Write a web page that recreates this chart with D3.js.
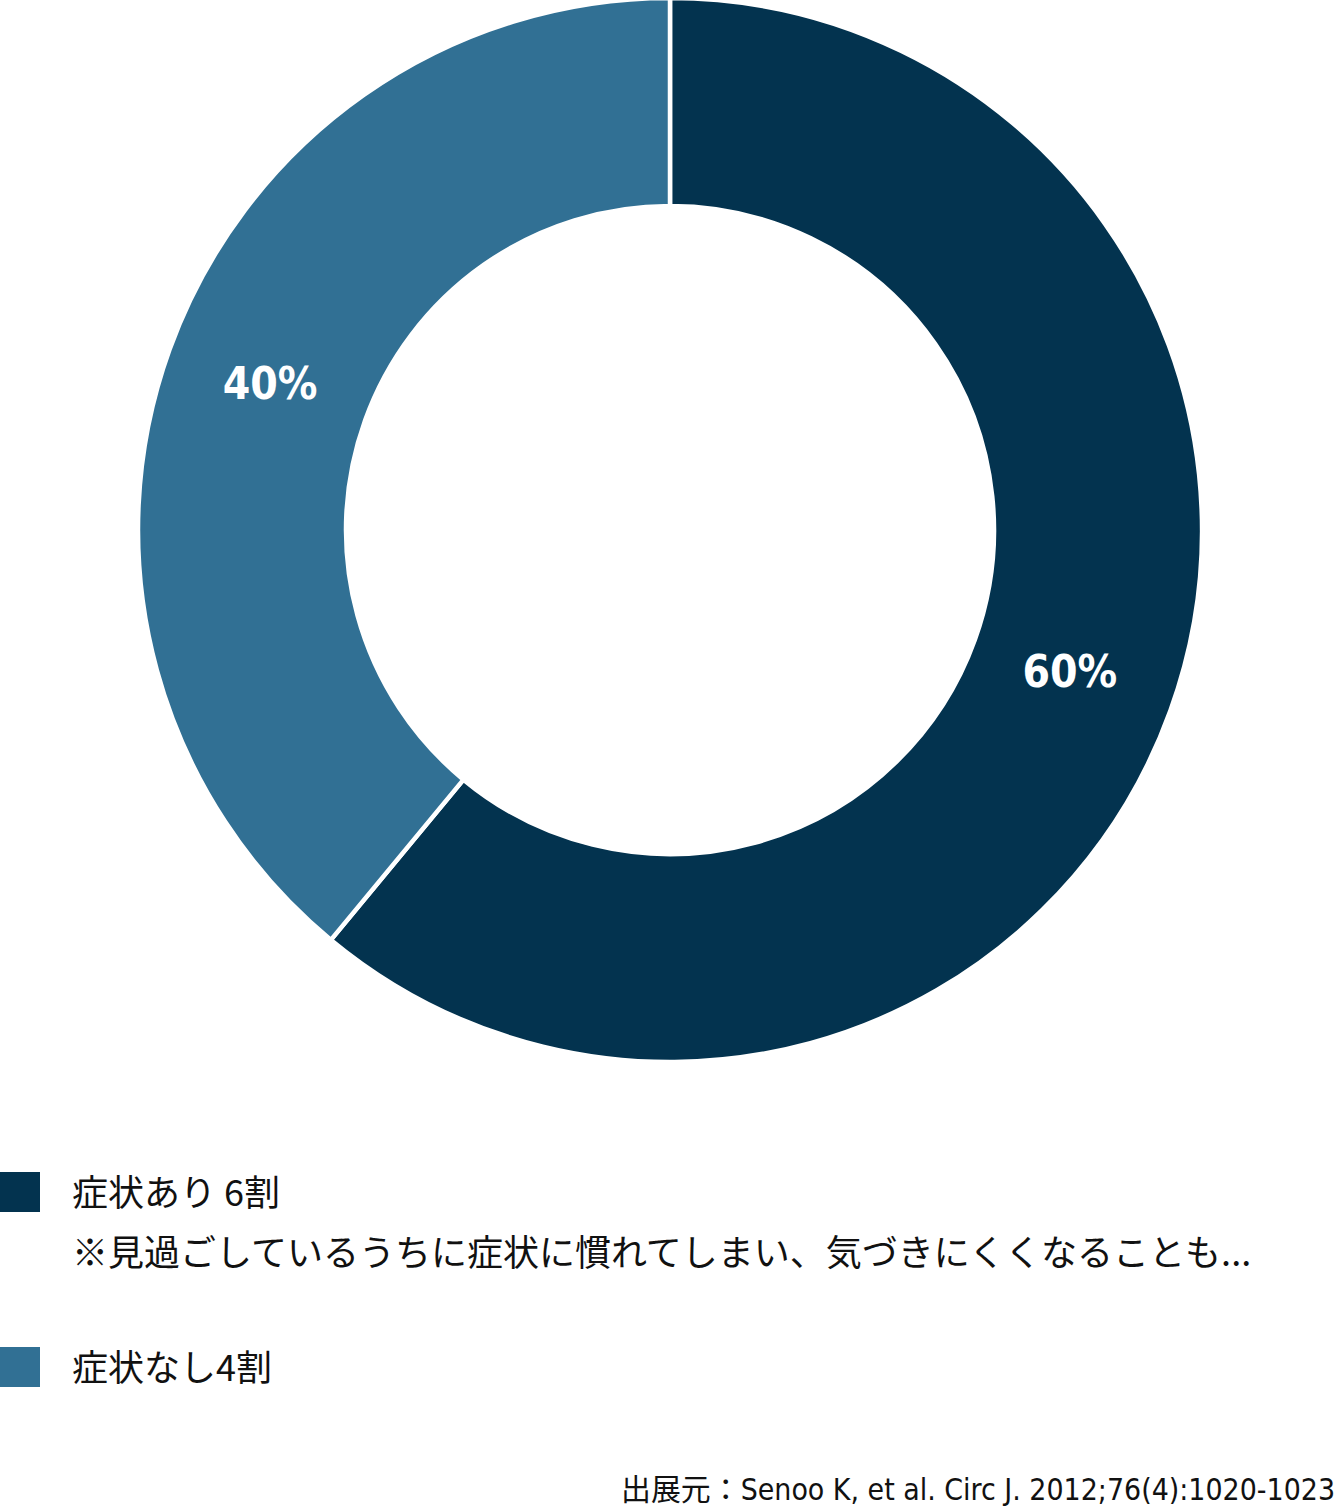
<!DOCTYPE html>
<html>
<head>
<meta charset="utf-8">
<script src="https://cdn.jsdelivr.net/npm/d3@7"></script>
<style>
  body { margin: 0; background: #fff; }
  svg { display: block; }
</style>
</head>
<body>
<div class="container"></div>
<script>
// Data
const categories = ["症状あり", "症状なし"]
const shares = [61, 39]               // slice sizes as drawn
const pctLabels = ["60%", "40%"]
const legendLines = [
    ["症状あり 6割", "※見過ごしているうちに症状に慣れてしまい、気づきにくくなることも..."],
    ["症状なし4割"]
]
const colors = ["#03334f", "#317094"]
const sourceText = "出展元：Senoo K, et al. Circ J. 2012;76(4):1020-1023"

// SVG
let width = 1340
let height = 1512
let cx = 670, cy = 530

const svg = d3.select(".container")
    .append("svg")
    .attr("width", width)
    .attr("height", height)

const color = d3.scaleOrdinal()
    .domain(categories)
    .range(colors)

const pie = d3.pie()
    .sort(null)
    .value(d => d.value)

const arc = d3.arc()
    .innerRadius(324)
    .outerRadius(532)

const labelArc = d3.arc()
    .innerRadius(425)
    .outerRadius(425)

const data = categories.map((c, i) => ({name: c, value: shares[i], label: pctLabels[i]}))
const arcs = pie(data)

const g = svg.append("g")
    .attr("transform", `translate(${cx}, ${cy})`)

// Slices
g.selectAll(".slice")
    .data(arcs)
    .enter()
    .append("path")
    .attr("class", "slice")
    .attr("d", arc)
    .attr("fill", d => color(d.data.name))
    .attr("stroke", "white")
    .attr("stroke-width", 4.5)

// Percent labels
g.selectAll(".pct")
    .data(arcs)
    .enter()
    .append("text")
    .attr("class", "pct")
    .text(d => d.data.label)
    .attr("transform", d => `translate(${labelArc.centroid(d)})`)
    .attr("text-anchor", "middle")
    .attr("dy", "0.3em")
    .attr("font-family", "'DejaVu Sans Condensed', 'DejaVu Sans', sans-serif")
    .attr("font-stretch", "condensed")
    .attr("font-weight", "bold")
    .attr("font-size", 44)
    .attr("fill", "white")

// Legend
const legendY = [1172, 1347]
const legend = svg.selectAll(".legend")
    .data(data)
    .enter()
    .append("g")
    .attr("class", "legend")
    .attr("transform", (d, i) => `translate(0, ${legendY[i]})`)

legend.append("rect")
    .attr("x", 0)
    .attr("y", 0)
    .attr("width", 40)
    .attr("height", 40)
    .attr("fill", d => color(d.name))

legend.each(function(d, i) {
    d3.select(this).selectAll("text")
        .data(legendLines[i])
        .enter()
        .append("text")
        .text(t => t)
        .attr("x", 72)
        .attr("y", (t, j) => 34 + j * 60)
        .attr("font-family", "'Noto Sans CJK JP', 'Noto Sans', sans-serif")
        .attr("font-size", 36)
        .attr("fill", "#111")
})

// Source
svg.append("text")
    .text(sourceText)
    .attr("x", 1335)
    .attr("y", 1500)
    .attr("text-anchor", "end")
    .attr("textLength", 714)
    .attr("lengthAdjust", "spacingAndGlyphs")
    .attr("font-family", "'Liberation Sans Narrow', 'DejaVu Sans Condensed', 'Noto Sans CJK JP', sans-serif")
    .attr("font-size", 30)
    .attr("fill", "#111")
</script>
</body>
</html>
